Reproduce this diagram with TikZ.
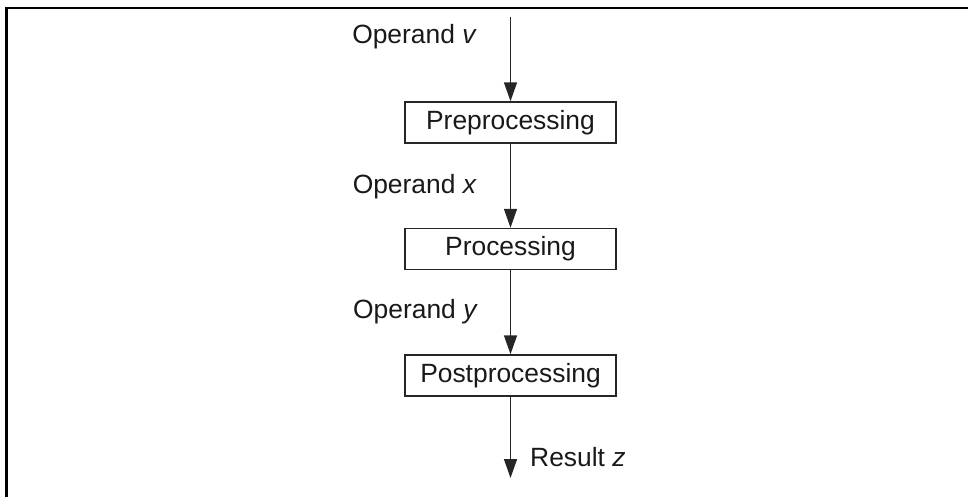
\documentclass[tikz,border=0pt]{standalone}
\usepackage{fontspec}
\setmainfont{Liberation Sans}
\usetikzlibrary{arrows.meta}
\begin{document}
\begin{tikzpicture}[x=1pt,y=-1pt,
  font=\fontsize{26.4}{30}\selectfont,
  stagebox/.style={draw=black!85, line width=1.5pt, minimum width=211pt, minimum height=41pt, inner sep=0pt, text=black!90},
  lbl/.style={inner sep=0pt, text=black!90},
  flow/.style={draw=black!85, line width=1.5pt, -{Triangle[length=19pt,width=13pt]}}]
\useasboundingbox (0,0) rectangle (968,496);
% partial frame
\draw[line width=2.6pt] (6.2,500) -- (6.2,7.8) -- (972,7.8);
% boxes
\node[stagebox] (pre) at (510.5,122.5) {Preprocessing};
\node[stagebox] (proc) at (510.5,249) {Processing};
\node[stagebox] (post) at (510.5,375.5) {Postprocessing};
% free ends
\coordinate (in) at (510.5,17);
\coordinate (out) at (510.5,478);
% connectors
\draw[flow] (in) -- (pre.north);
\draw[flow] (pre.south) -- (proc.north);
\draw[flow] (proc.south) -- (post.north);
\draw[flow] (post.south) -- (out);
% labels
\node[lbl, anchor=base east] (lv) at (477,43) {Operand \textit{v}};
\node[lbl, anchor=base east] (lx) at (477,193) {Operand \textit{x}};
\node[lbl, anchor=base east] (ly) at (478,318) {Operand \textit{y}};
\node[lbl, anchor=base west] (lz) at (530,466) {Result \textit{z}};
\end{tikzpicture}
\end{document}
